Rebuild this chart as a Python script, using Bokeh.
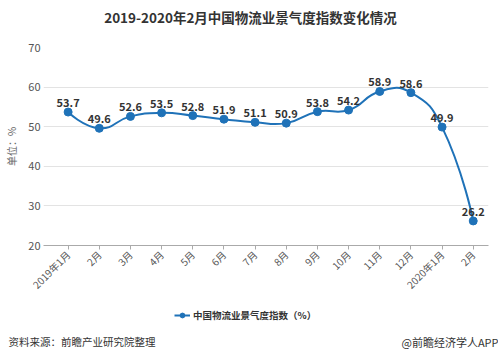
import numpy as np
from bokeh.plotting import figure
from bokeh.layouts import column
from bokeh.models import (Range1d, FixedTicker, Label, Legend, LegendItem, ColumnDataSource)
from bokeh.core.properties import value
from bokeh.embed import file_html
from bokeh.resources import INLINE

# ---- data ----
categories = ["2019年1月", "2月", "3月", "4月", "5月", "6月", "7月", "8月",
              "9月", "10月", "11月", "12月", "2020年1月", "2月"]
index_values = [53.7, 49.6, 52.6, 53.5, 52.8, 51.9, 51.1, 50.9,
                53.8, 54.2, 58.9, 58.6, 49.9, 26.2]
y_ticks = [20, 30, 40, 50, 60, 70]
series_name = "中国物流业景气度指数（%）"
title_text = "2019-2020年2月中国物流业景气度指数变化情况"
source_text = "资料来源：前瞻产业研究院整理"
brand_text = "@前瞻经济学人APP"

FONT = "Noto Sans CJK SC"
BLUE = "#1f72b8"

W = 498
H_HEAD = 30
H_MAIN = 270
H_FOOT = 57


def blank(h):
    fig = figure(width=W, height=h, output_backend="svg", toolbar_location=None,
                 x_range=Range1d(0, W), y_range=Range1d(h, 0),
                 x_axis_type=None, y_axis_type=None, min_border=0)
    fig.frame_align = False
    fig.outline_line_color = None
    fig.background_fill_color = "white"
    fig.border_fill_color = "white"
    fig.grid.visible = False
    return fig


# ---- header with title ----
head = blank(H_HEAD)
head.add_layout(Label(x=250, y=16.5, text=title_text, text_font=FONT,
                      text_font_size="13.5px", text_font_style="bold",
                      text_color="#333333", text_align="center",
                      text_baseline="middle"))

# ---- main chart ----
p = figure(width=W, height=H_MAIN, output_backend="svg", toolbar_location=None,
           x_range=Range1d(-0.79, 13.49), y_range=Range1d(20, 70),
           min_border_left=43, min_border_right=10, min_border_top=17,
           min_border_bottom=55)
p.outline_line_color = None
p.background_fill_color = "white"
p.border_fill_color = "white"

xs = np.arange(len(index_values), dtype=float)
ys = np.array(index_values, dtype=float)

p.xaxis.ticker = FixedTicker(ticks=list(xs))
p.xaxis.major_label_overrides = {i: c for i, c in enumerate(categories)}
p.xaxis.major_label_orientation = np.pi / 4
p.xaxis.major_label_text_font = FONT
p.xaxis.major_label_text_font_size = "10px"
p.xaxis.major_label_text_color = "#555555"
p.xaxis.axis_line_color = "#aaaaaa"
p.xaxis.major_tick_line_color = "#aaaaaa"
p.xaxis.major_tick_out = 4
p.xaxis.major_tick_in = 0
p.xaxis.minor_tick_line_color = None
p.xaxis.minor_tick_out = 0
p.xaxis.major_label_standoff = 3

p.yaxis.ticker = FixedTicker(ticks=y_ticks)
p.yaxis.axis_line_color = None
p.yaxis.major_tick_line_color = None
p.yaxis.minor_tick_line_color = None
p.yaxis.major_tick_out = 0
p.yaxis.major_tick_in = 0
p.yaxis.minor_tick_out = 0
p.yaxis.minor_tick_in = 0
p.yaxis.major_label_text_font = FONT
p.yaxis.major_label_text_font_size = "11px"
p.yaxis.major_label_text_color = "#555555"
p.yaxis.major_label_standoff = 3
p.yaxis.axis_label = "单位：%"
p.yaxis.axis_label_text_font = FONT
p.yaxis.axis_label_text_font_size = "10px"
p.yaxis.axis_label_text_font_style = "normal"
p.yaxis.axis_label_text_color = "#666666"
p.yaxis.axis_label_standoff = 6

p.xgrid.grid_line_color = None
p.ygrid.grid_line_color = "#e3e3e3"
p.ygrid.grid_line_width = 1

# smooth curve (echarts-like smoothing, computed in pixel-aspect space)
sx, sy, smooth = 31.15, 3.96, 0.5
n = len(xs)
cpn_x, cpn_y = xs.copy(), ys.copy()
cpp_x, cpp_y = xs.copy(), ys.copy()
for i in range(1, n - 1):
    vx = xs[i + 1] - xs[i - 1]
    vy = ys[i + 1] - ys[i - 1]
    d0 = np.hypot((xs[i] - xs[i - 1]) * sx, (ys[i] - ys[i - 1]) * sy)
    d1 = np.hypot((xs[i + 1] - xs[i]) * sx, (ys[i + 1] - ys[i]) * sy)
    r1 = d1 / (d0 + d1)
    r0 = d0 / (d0 + d1)
    cpn_x[i] = xs[i] + vx * r1 * smooth
    cpn_y[i] = ys[i] + vy * r1 * smooth
    cpp_x[i] = xs[i] - vx * r0 * smooth
    cpp_y[i] = ys[i] - vy * r0 * smooth

bez = ColumnDataSource(dict(x0=xs[:-1], y0=ys[:-1], x1=xs[1:], y1=ys[1:],
                            cx0=cpn_x[:-1], cy0=cpn_y[:-1],
                            cx1=cpp_x[1:], cy1=cpp_y[1:]))
p.bezier(x0="x0", y0="y0", x1="x1", y1="y1", cx0="cx0", cy0="cy0",
         cx1="cx1", cy1="cy1", source=bez, line_color=BLUE, line_width=2)

pts = ColumnDataSource(dict(x=xs, y=ys, lbl=[f"{v:.1f}" for v in index_values]))
p.scatter("x", "y", source=pts, size=8, fill_color=BLUE, line_color=BLUE)
p.text("x", "y", text="lbl", source=pts, text_align="center",
       text_baseline="bottom", y_offset=-5, text_font=value(FONT),
       text_font_size="11px", text_font_style="bold", text_color="#333333")

# ---- footer: legend + source texts ----
f = blank(H_FOOT)
leg_line = f.line(x=[np.nan], y=[np.nan], line_color=BLUE, line_width=2)
leg_pt = f.scatter(x=[np.nan], y=[np.nan], size=8, fill_color=BLUE, line_color=BLUE)
legend = Legend(items=[LegendItem(label=series_name, renderers=[leg_line, leg_pt])],
                location=(174, 35), orientation="horizontal",
                border_line_color=None, background_fill_alpha=0,
                padding=0, margin=0, glyph_width=16, glyph_height=12,
                label_height=12, label_standoff=3,
                label_text_font=FONT, label_text_font_size="9.5px",
                label_text_font_style="bold", label_text_color="#333333")
f.add_layout(legend, "center")

f.add_layout(Label(x=8, y=41, text=source_text, text_font=FONT, text_font_size="10.5px",
                   text_color="#333333", text_baseline="middle", text_align="left"))
f.add_layout(Label(x=W, y=41, text=brand_text, text_font=FONT, text_font_size="11px",
                   text_color="#333333", text_baseline="middle", text_align="right"))

layout = column(head, p, f, spacing=0)
open("out.html", "w").write(file_html(layout, INLINE))
